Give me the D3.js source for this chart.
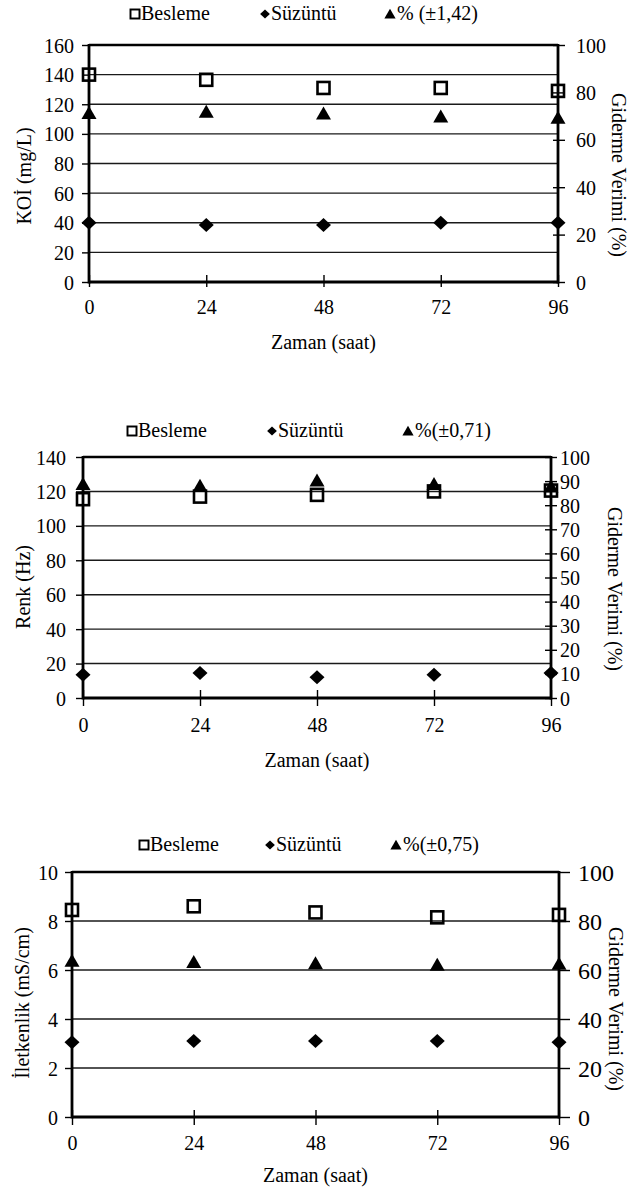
<!DOCTYPE html>
<html><head><meta charset="utf-8">
<script src="https://cdn.jsdelivr.net/npm/d3@7/dist/d3.min.js"></script>
<style>
html,body{margin:0;padding:0;background:#fff;}
svg{display:block;}
text{font-family:"Liberation Serif","Times New Roman",serif;fill:#000;}
</style></head>
<body>
<svg id="c" width="640" height="1191"></svg>
<script>
// ---- data ----
const hours = [0, 24, 48, 72, 96];
const xTickLabels = ["0", "24", "48", "72", "96"];
const seriesNames = ["Besleme", "Süzüntü"];

const koiBesleme = [140, 136.5, 131, 131, 129];
const koiSuzuntu = [40, 38.5, 38.5, 40, 40];
const koiGiderme = [71.5, 72, 71.3, 70, 69.5];
const koiLeftTicks = [0, 20, 40, 60, 80, 100, 120, 140, 160];
const koiRightTicks = [0, 20, 40, 60, 80, 100];

const renkBesleme = [115.5, 117, 118, 120, 120.5];
const renkSuzuntu = [13.5, 14.5, 12, 13.5, 14.5];
const renkGiderme = [89, 88.3, 90.5, 89, 88];
const renkLeftTicks = [0, 20, 40, 60, 80, 100, 120, 140];
const renkRightTicks = [0, 10, 20, 30, 40, 50, 60, 70, 80, 90, 100];

const iletBesleme = [8.45, 8.6, 8.35, 8.15, 8.25];
const iletSuzuntu = [3.05, 3.1, 3.1, 3.1, 3.05];
const iletGiderme = [64, 63.5, 63, 62.3, 62.8];
const iletLeftTicks = [0, 2, 4, 6, 8, 10];
const iletRightTicks = [0, 20, 40, 60, 80, 100];

const percentLabels = ["% (±1,42)", "%(±0,71)", "%(±0,75)"];
const leftTitles = ["KOİ (mg/L)", "Renk (Hz)", "İletkenlik (mS/cm)"];
const rightTitle = "Giderme Verimi (%)";
const xTitle = "Zaman (saat)";

// ---- layout ----
const charts = [
  {b: koiBesleme, s: koiSuzuntu, g: koiGiderme, lt: koiLeftTicks, rt: koiRightTicks, pct: percentLabels[0], ltitle: leftTitles[0],
   L: 89, R: 558, T: 45, B: 282, legY: 20, legX: [135, 265, 390], ltX: 24, ltY: 176, rtX: 619, rtY: 175,
   xlY: 314, xtY: 349, lTick: [-7, 0], rTick: [-5, 7], bTick: [-7, 5], rFont: 20, rLabX: 576, lLabX: 74},
  {b: renkBesleme, s: renkSuzuntu, g: renkGiderme, lt: renkLeftTicks, rt: renkRightTicks, pct: percentLabels[1], ltitle: leftTitles[1],
   L: 83, R: 551, T: 457, B: 698, legY: 437, legX: [132, 272, 408], ltX: 23, ltY: 587, rtX: 615, rtY: 589,
   xlY: 732, xtY: 767, lTick: [-7, 0], rTick: [-6, 6], bTick: [-8, 8], rFont: 20, rLabX: 560, lLabX: 66},
  {b: iletBesleme, s: iletSuzuntu, g: iletGiderme, lt: iletLeftTicks, rt: iletRightTicks, pct: percentLabels[2], ltitle: leftTitles[2],
   L: 72, R: 559, T: 872, B: 1117, legY: 851, legX: [144, 270, 396], ltX: 22, ltY: 1003, rtX: 616, rtY: 1009,
   xlY: 1150, xtY: 1182, lTick: [-7, 0], rTick: [0, 11], bTick: [-7, 8], rFont: 24, rLabX: 578, lLabX: 58}
];

const svg = d3.select("#c");
const FS = 20;

function marker(g, type, x, y, k) {
  k = k || 1;
  if (type === "square") {
    g.append("rect").attr("x", x - 6 * k).attr("y", y - 6 * k).attr("width", 12 * k).attr("height", 12 * k)
      .attr("fill", "none").attr("stroke", "#000").attr("stroke-width", 2.6 * k);
  } else if (type === "diamond") {
    g.append("path").attr("d", `M${x},${y - 7 * k}L${x + 7.5 * k},${y}L${x},${y + 7 * k}L${x - 7.5 * k},${y}Z`).attr("fill", "#000");
  } else {
    g.append("path").attr("d", `M${x},${y - 7 * k}L${x + 7.5 * k},${y + 6 * k}L${x - 7.5 * k},${y + 6 * k}Z`).attr("fill", "#000");
  }
}

charts.forEach(c => {
  const g = svg.append("g");
  const x = d3.scaleLinear().domain([0, 96]).range([c.L, c.R]);
  const yL = d3.scaleLinear().domain([0, d3.max(c.lt)]).range([c.B, c.T]);
  const yR = d3.scaleLinear().domain([0, 100]).range([c.B, c.T]);

  // gridlines
  g.append("g").selectAll("line").data(c.lt.slice(1, -1)).join("line")
    .attr("x1", c.L).attr("x2", c.R).attr("y1", d => yL(d)).attr("y2", d => yL(d))
    .attr("stroke", "#1a1a1a").attr("stroke-width", 1.4);
  // top border
  g.append("line").attr("x1", c.L).attr("x2", c.R).attr("y1", c.T).attr("y2", c.T)
    .attr("stroke", "#000").attr("stroke-width", 2.4);

  // left axis
  const la = g.append("g").attr("transform", `translate(${c.L},0)`)
    .call(d3.axisLeft(yL).tickValues(c.lt).tickSizeOuter(0).tickSizeInner(0).tickPadding(0).tickFormat(d3.format("d")));
  la.select(".domain").remove();
  la.selectAll(".tick line").attr("x1", c.lTick[0]).attr("x2", c.lTick[1]).attr("stroke", "#000").attr("stroke-width", 1.4);
  la.selectAll(".tick text").attr("x", c.lLabX - c.L).attr("dy", "0.35em").style("font-size", FS + "px")
    .style("font-family", '"Liberation Serif","Times New Roman",serif');

  // right axis
  const ra = g.append("g").attr("transform", `translate(${c.R},0)`)
    .call(d3.axisRight(yR).tickValues(c.rt).tickSizeOuter(0).tickSizeInner(0).tickPadding(0).tickFormat(d3.format("d")));
  ra.select(".domain").remove();
  ra.selectAll(".tick line").attr("x1", c.rTick[0]).attr("x2", c.rTick[1]).attr("stroke", "#000").attr("stroke-width", 1.4);
  ra.selectAll(".tick text").attr("x", c.rLabX - c.R).attr("dy", "0.35em").style("font-size", c.rFont + "px")
    .style("font-family", '"Liberation Serif","Times New Roman",serif');

  // bottom axis
  const ba = g.append("g").attr("transform", `translate(0,${c.B})`)
    .call(d3.axisBottom(x).tickValues(hours).tickSizeOuter(0).tickSizeInner(0).tickPadding(0).tickFormat((d, i) => xTickLabels[i]));
  ba.select(".domain").remove();
  ba.selectAll(".tick line").attr("y1", c.bTick[0]).attr("y2", c.bTick[1]).attr("stroke", "#000").attr("stroke-width", 1.4);
  ba.selectAll(".tick text").attr("y", c.xlY - c.B).attr("dy", 0).style("font-size", FS + "px")
    .style("font-family", '"Liberation Serif","Times New Roman",serif');

  // axis lines (thick)
  g.append("line").attr("x1", c.L).attr("x2", c.L).attr("y1", c.T - 1).attr("y2", c.B + 1.5).attr("stroke", "#000").attr("stroke-width", 2.8);
  g.append("line").attr("x1", c.R).attr("x2", c.R).attr("y1", c.T - 1).attr("y2", c.B + 1.5).attr("stroke", "#000").attr("stroke-width", 2.8);
  g.append("line").attr("x1", c.L).attr("x2", c.R).attr("y1", c.B).attr("y2", c.B).attr("stroke", "#000").attr("stroke-width", 2.8);

  // data markers
  hours.forEach((h, i) => marker(g, "square", x(h), yL(c.b[i])));
  hours.forEach((h, i) => marker(g, "diamond", x(h), yL(c.s[i])));
  hours.forEach((h, i) => marker(g, "triangle", x(h), yR(c.g[i]) + 0.5));

  // titles
  g.append("text").attr("x", (c.L + c.R) / 2).attr("y", c.xtY).attr("text-anchor", "middle").style("font-size", FS + "px").text(xTitle);
  g.append("text").attr("transform", `translate(${c.ltX},${c.ltY}) rotate(-90)`).attr("text-anchor", "middle")
    .attr("dy", "0.35em").style("font-size", FS + "px").text(c.ltitle);
  g.append("text").attr("transform", `translate(${c.rtX},${c.rtY}) rotate(90)`).attr("text-anchor", "middle")
    .attr("dy", "0.35em").style("font-size", FS + "px").text(rightTitle);

  // legend
  const lg = g.append("g");
  const my = c.legY - 6;
  marker(lg, "square", c.legX[0], my, 0.75);
  lg.append("text").attr("x", c.legX[0] + 6).attr("y", c.legY).style("font-size", FS + "px").text(seriesNames[0]);
  marker(lg, "diamond", c.legX[1], my, 0.65);
  lg.append("text").attr("x", c.legX[1] + 6).attr("y", c.legY).style("font-size", FS + "px").text(seriesNames[1]);
  marker(lg, "triangle", c.legX[2], my, 0.75);
  lg.append("text").attr("x", c.legX[2] + 7).attr("y", c.legY).style("font-size", FS + "px").text(c.pct);
});
</script>
</body></html>
